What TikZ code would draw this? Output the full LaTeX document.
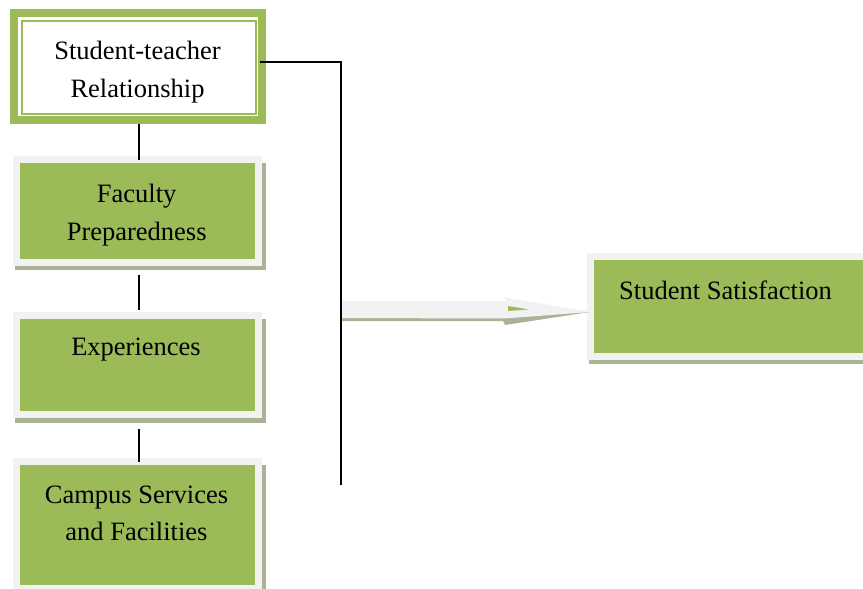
\documentclass[tikz,border=0pt]{standalone}
\usepackage{fontspec}
\setmainfont{Liberation Serif}
\usetikzlibrary{backgrounds}
\definecolor{og}{HTML}{9BBB59}
\definecolor{fr}{HTML}{F2F2F2}
\definecolor{sh}{HTML}{A9B496}
\begin{document}
\begin{tikzpicture}[x=1pt,y=-1pt,
  gbox/.style={rectangle, inner sep=0pt, fill=og, draw=fr, line width=7pt},
  lbl/.style={font=\fontsize{26.5}{37.5}\selectfont, align=center, inner sep=0pt, anchor=base},
  conn/.style={draw=black, line width=1.2pt}]
\useasboundingbox (0,0) rectangle (863,589);
\clip (0,0) rectangle (863,589);

% top box
\node[rectangle, inner sep=0pt, fill=white, draw=og, line width=8pt,
      minimum width=248pt, minimum height=107pt] (stb) at (138,66.5) {};
\draw[og, line width=2pt] ([xshift=12pt,yshift=-12pt]stb.north west) rectangle ([xshift=-10pt,yshift=10pt]stb.south east);

% green boxes
\node[gbox, minimum width=242pt, minimum height=103pt] (fac) at (137.5,211) {};
\node[gbox, minimum width=242pt, minimum height=99pt] (exp) at (137.5,365) {};
\node[gbox, minimum width=242pt, minimum height=127pt] (cam) at (137.5,525) {};
\node[gbox, minimum width=289.5pt, minimum height=100pt] (sat) at (735.25,306.5) {};

\begin{scope}[on background layer]
  \fill[white] (0,0) rectangle (863,589);
  \fill[sh] ([xshift=2pt,yshift=-4pt]fac.south west) rectangle ([xshift=4pt,yshift=-7pt]fac.north east);
  \fill[sh] ([xshift=2pt,yshift=-5pt]exp.south west) rectangle ([xshift=4pt,yshift=-7pt]exp.north east);
  \fill[sh] ([xshift=2pt,yshift=-4pt]cam.south west) rectangle ([xshift=4pt,yshift=-7pt]cam.north east);
  \fill[sh] ([xshift=2pt,yshift=-4pt]sat.south west) rectangle ([xshift=4pt,yshift=-7pt]sat.north east);
\end{scope}

% labels (base anchor = baseline of last line)
\node[lbl] (t1) at (137.5,97) {Student-teacher\\Relationship};
\node[lbl] (t2) at (136.7,240) {Faculty\\Preparedness};
\node[lbl] (t3) at (136,355) {Experiences};
\node[lbl] (t4) at (136.5,540.5) {Campus Services\\and Facilities};
\node[lbl, anchor=base west] (t5) at (619,299.3) {Student Satisfaction};

% block arrow
\fill[sh] (340,316) -- (590,312) -- (505,325) -- (503,321) -- (340,321) -- cycle;
\fill[fr] (340,301) -- (507,301) -- (503,297) -- (591,312) -- (504,318.5) -- (340,318) -- cycle;
\fill[og] (508,306) -- (529,309.5) -- (508,311) -- cycle;

% connectors
\coordinate (vend) at (341,485);
\draw[conn] ([xshift=1pt]stb.south) -- ([xshift=1.5pt,yshift=-4pt]fac.north);
\draw[conn] ([xshift=1.5pt,yshift=-9pt]fac.south) -- ([xshift=1.5pt,yshift=2pt]exp.north);
\draw[conn] ([xshift=1.5pt,yshift=-11pt]exp.south) -- ([xshift=1.5pt,yshift=-4pt]cam.north);
\draw[conn] ([xshift=-6pt,yshift=4.5pt]stb.east) -| (vend);
\end{tikzpicture}
\end{document}
